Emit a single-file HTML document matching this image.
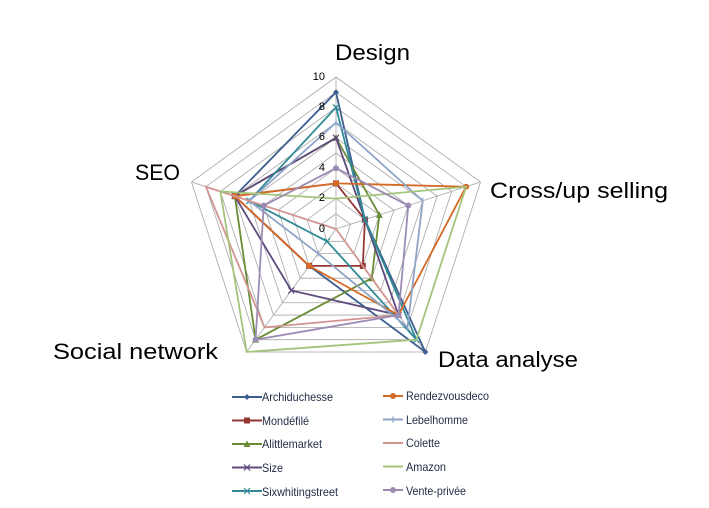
<!DOCTYPE html>
<html><head><meta charset="utf-8"><style>
body{margin:0;background:#fff;width:709px;height:508px;overflow:hidden;font-family:"Liberation Sans",sans-serif}
svg{position:absolute;left:0;top:0}
</style></head><body>
<svg id="s" width="709" height="508" xmlns="http://www.w3.org/2000/svg">
<g id="grid" fill="none" stroke="#a6a6a6" stroke-width="0.8"></g>
<g id="series" fill="none" stroke-width="1.8"></g>
<g font-size="11" fill="#000" text-anchor="end">
<text x="325" y="80">10</text><text x="325" y="110">8</text><text x="325" y="140">6</text><text x="325" y="171">4</text><text x="325" y="201">2</text><text x="325" y="232">0</text>
</g>
<g font-size="22" fill="#000" lengthAdjust="spacingAndGlyphs">
<text x="335" y="60" textLength="75" lengthAdjust="spacingAndGlyphs">Design</text>
<text x="490" y="198" textLength="178" lengthAdjust="spacingAndGlyphs">Cross/up selling</text>
<text x="438" y="367" textLength="140" lengthAdjust="spacingAndGlyphs">Data analyse</text>
<text x="53" y="359" textLength="165" lengthAdjust="spacingAndGlyphs">Social network</text>
<text x="135" y="180" textLength="45" lengthAdjust="spacingAndGlyphs">SEO</text>
</g>
<g font-size="12" fill="#1f2a44" id="leg">
<text x="262" y="401" textLength="71" lengthAdjust="spacingAndGlyphs">Archiduchesse</text>
<text x="262" y="425" textLength="47" lengthAdjust="spacingAndGlyphs">Mondéfilé</text>
<text x="262" y="448" textLength="60" lengthAdjust="spacingAndGlyphs">Alittlemarket</text>
<text x="262" y="472" textLength="21" lengthAdjust="spacingAndGlyphs">Size</text>
<text x="262" y="496" textLength="76" lengthAdjust="spacingAndGlyphs">Sixwhitingstreet</text>
<text x="406" y="400" textLength="83" lengthAdjust="spacingAndGlyphs">Rendezvousdeco</text>
<text x="406" y="424" textLength="62" lengthAdjust="spacingAndGlyphs">Lebelhomme</text>
<text x="406" y="447" textLength="34" lengthAdjust="spacingAndGlyphs">Colette</text>
<text x="406" y="471" textLength="40" lengthAdjust="spacingAndGlyphs">Amazon</text>
<text x="406" y="495" textLength="60" lengthAdjust="spacingAndGlyphs">Vente-privée</text>
</g>
<g id="legm" stroke-width="2"></g>
</svg>
<script>
var cx=336,cy=229,R=152,NS="http://www.w3.org/2000/svg";
function pt(i,v){var a=(-90+72*i)*Math.PI/180;return [cx+R*v/10*Math.cos(a),cy+R*v/10*Math.sin(a)];}
function el(t,at,p){var e=document.createElementNS(NS,t);for(var k in at)e.setAttribute(k,at[k]);p.appendChild(e);return e;}
var g=document.getElementById('grid');
for(var r=1;r<=10;r++){var ps=[];for(var i=0;i<5;i++)ps.push(pt(i,r).join(','));el('polygon',{points:ps.join(' ')},g);}
for(var i=0;i<5;i++){var p=pt(i,10);el('line',{x1:cx,y1:cy,x2:p[0],y2:p[1]},g);}
var S=[
['#3d5f8f',[9,2,10,3,7],'d'],
['#953735',[3,2,3,3,7],'s'],
['#6a8c34',[6,3,4,9,7],'t'],
['#5f4a7d',[6,2,7,5,7],'x'],
['#2f8a96',[8,2,9,1,6],'x'],
['#d46a26',[3,9,7,3,7],'c'],
['#8ea3c8',[7,6,8,2,6],'p'],
['#d39592',[0,0,7,8,9],'n'],
['#a4c47b',[2,9,9,10,8],'n'],
['#9c8cb3',[4,5,7,9,5],'c']];
var sg=document.getElementById('series'),lm=document.getElementById('legm');
function mark(x,y,c,m,p){if(m=='d')el('polygon',{points:(x)+','+(y-3)+' '+(x+3)+','+y+' '+x+','+(y+3)+' '+(x-3)+','+y,fill:c},p);
else if(m=='s')el('rect',{x:x-3,y:y-3,width:6,height:6,fill:c},p);
else if(m=='t')el('polygon',{points:x+','+(y-3.5)+' '+(x+3.5)+','+(y+3)+' '+(x-3.5)+','+(y+3),fill:c},p);
else if(m=='c')el('circle',{cx:x,cy:y,r:3,fill:c},p);
else if(m=='x'){el('path',{d:'M'+(x-3)+' '+(y-3)+'L'+(x+3)+' '+(y+3)+'M'+(x-3)+' '+(y+3)+'L'+(x+3)+' '+(y-3),stroke:c,'stroke-width':1.2},p);}
else if(m=='p'){el('line',{x1:x,y1:y-3,x2:x,y2:y+3,stroke:c,'stroke-width':1.2},p);}}
S.forEach(function(s,k){var ps=s[1].map(function(v,i){return pt(i,v);});
el('polygon',{points:ps.map(function(p){return p.join(',')}).join(' '),stroke:s[0]},sg);
ps.forEach(function(p){mark(p[0],p[1],s[0],s[2],sg);});
var col=k<5?0:1,row=k%5,x0=col?383:232,x1=col?403:262,y=(col?396:397)+row*23.5;
el('line',{x1:x0,y1:y,x2:x1,y2:y,stroke:s[0]},lm);mark((x0+x1)/2,y,s[0],s[2],lm);});
</script>
</body></html>
